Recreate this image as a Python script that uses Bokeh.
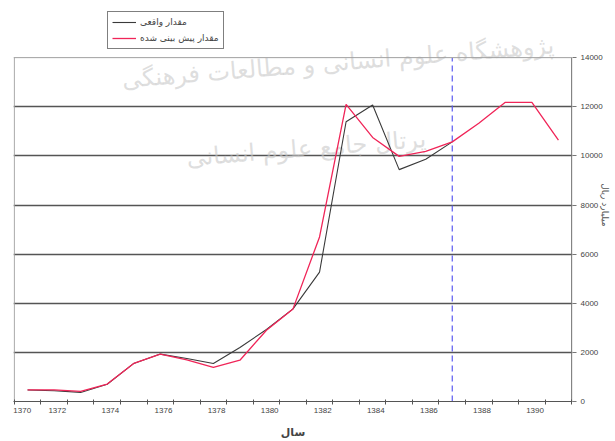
from bokeh.plotting import figure
from bokeh.models import Range1d, FixedTicker, Legend, LegendItem, Span
from bokeh.core.properties import value
from bokeh.embed import file_html
from bokeh.resources import INLINE

# ---- data ----
years = list(range(1371, 1392))
predicted = [470, 470, 410, 710, 1550, 1930, 1690, 1390, 1680, 2900, 3770,
             6700, 12100, 10750, 9980, 10180, 10570, 11330, 12180, 12180, 10640]
actual = [470, 440, 370, 700, 1550, 1930, 1750, 1550, 2200, 2930, 3770,
          5270, 11390, 12070, 9440, 9860, 10570]
forecast_year = 1387
x_label_years = [1370, 1372, 1374, 1376, 1378, 1380, 1382, 1384, 1386, 1388, 1390]
y_ticks = [0, 2000, 4000, 6000, 8000, 10000, 12000, 14000]
legend_labels = ["مقدار واقعی", "مقدار پیش بینی شده"]
x_title = "سال"
y_title = "میلیارد ریال"
watermark = ["پژوهشگاه علوم انسانی و مطالعات فرهنگی", "پرتال جامع علوم انسانی"]

x0, x1 = years[0] - 1, years[-1]
x_pred = [y - 0.5 for y in years]
x_act = x_pred[:len(actual)]
ytop = y_ticks[-1]

p = figure(width=615, height=441,
           x_range=Range1d(x0 - 0.03, x1 + 0.03), y_range=Range1d(0, 16000),
           y_axis_location="right", output_backend="svg", toolbar_location=None,
           min_border_left=13, min_border_top=8, min_border_right=43, min_border_bottom=40)
p.outline_line_color = None
p.background_fill_color = "white"
p.border_fill_color = "white"

# watermark
p.text(x=[1382.2, 1381.0], y=[13800, 10300], text=watermark, angle=0.08,
       text_font=value("DejaVu Sans"), text_font_size="24px", text_color="#c8c8c8",
       text_alpha=0.6, text_align="center", text_baseline="middle")

# grid
p.xgrid.visible = False
p.ygrid.ticker = FixedTicker(ticks=y_ticks[1:-1])
p.ygrid.grid_line_color = "#555555"
p.ygrid.grid_line_width = 1.3
p.add_layout(Span(location=ytop, dimension="width", line_color="#a0a0a0", line_width=1))

# frame borders
p.line([x0, x0], [0, ytop], line_color="#a0a0a0", line_width=1)
p.line([x1, x1], [0, ytop], line_color="#777777", line_width=1.2)

# forecast separator
fx = forecast_year - 0.5
p.line([fx, fx], [0, ytop], line_color="#5a5af0", line_width=1.2, line_dash="6 4")

r_act = p.line(x_act, actual, line_color="#3a3a3a", line_width=1.1)
r_pred = p.line(x_pred, predicted, line_color="#f02558", line_width=1.3)

# x axis
label_pos = [max(y - 0.38, x0 + 0.3) for y in x_label_years]
xa = p.xaxis[0]
xa.ticker = FixedTicker(ticks=label_pos, minor_ticks=list(range(x0, x1 + 1)))
xa.major_label_overrides = {pos: str(y) for pos, y in zip(label_pos, x_label_years)}
xa.major_tick_out = 0
xa.major_tick_in = 0
xa.minor_tick_out = 3
xa.minor_tick_in = 2
xa.minor_tick_line_color = "#555555"
xa.axis_line_color = "#555555"
xa.major_label_text_font = "Liberation Sans"
xa.major_label_text_font_size = "8px"
xa.major_label_text_color = "#444444"
xa.major_label_standoff = 3
xa.axis_label = x_title
xa.axis_label_text_font = "DejaVu Sans"
xa.axis_label_text_font_size = "11px"
xa.axis_label_text_font_style = "bold"
xa.axis_label_standoff = 10

# y axis (right)
ya = p.yaxis[0]
ya.ticker = FixedTicker(ticks=y_ticks)
ya.axis_line_color = None
ya.major_tick_out = 4
ya.major_tick_in = 0
ya.major_tick_line_color = "#777777"
ya.minor_tick_out = 0
ya.minor_tick_in = 0
ya.major_label_text_font = "Liberation Sans"
ya.major_label_text_font_size = "8px"
ya.major_label_text_color = "#444444"
ya.major_label_standoff = 4
ya.axis_label = y_title
ya.axis_label_text_font = "DejaVu Sans"
ya.axis_label_text_font_size = "9px"
ya.axis_label_text_font_style = "normal"
ya.axis_label_text_color = "#555555"
ya.axis_label_standoff = -6

legend = Legend(items=[LegendItem(label=legend_labels[0], renderers=[r_act]),
                       LegendItem(label=legend_labels[1], renderers=[r_pred])],
                location=(94, 352))
legend.border_line_color = "black"
legend.border_line_width = 1
legend.background_fill_alpha = 1
legend.label_text_font = "DejaVu Sans"
legend.label_text_font_size = "9px"
legend.glyph_width = 24
legend.glyph_height = 12
legend.label_height = 12
legend.padding = 4
legend.spacing = 4
legend.margin = 0
legend.label_standoff = 4
p.add_layout(legend)

open("out.html", "w").write(file_html(p, INLINE))
